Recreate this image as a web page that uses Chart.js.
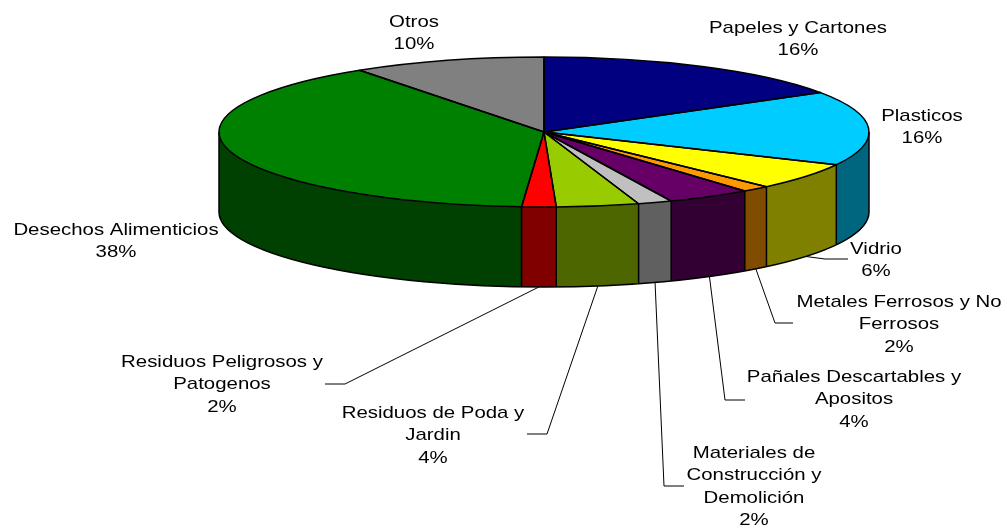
<!DOCTYPE html>
<html>
<head>
<meta charset="utf-8">
<style>
  html, body { margin: 0; padding: 0; background: #fff; }
  canvas { display: block; }
</style>
<script src="https://cdn.jsdelivr.net/npm/chart.js@4"></script>
</head>
<body>
<canvas id="pie" width="1007" height="529"></canvas>
<script>
const categories = [
  ['Papeles y Cartones'],
  ['Plasticos'],
  ['Vidrio'],
  ['Metales Ferrosos y No', 'Ferrosos'],
  ['Pañales Descartables y', 'Apositos'],
  ['Materiales de', 'Construcción y', 'Demolición'],
  ['Residuos de Poda y', 'Jardin'],
  ['Residuos Peligrosos y', 'Patogenos'],
  ['Desechos Alimenticios'],
  ['Otros']
];
const shownPct = ['16%', '16%', '6%', '2%', '4%', '2%', '4%', '2%', '38%', '10%'];
const values = [16.2, 16.0, 5.8, 1.4, 4.2, 1.7, 4.1, 1.7, 39.3, 9.6];
const topColors = ['#000080', '#00ccff', '#ffff00', '#ff9900', '#660066', '#c0c0c0', '#99cc00', '#ff0000', '#008000', '#808080'];
const wallColors = ['#000040', '#006680', '#808000', '#804c00', '#330033', '#606060', '#4d6600', '#800000', '#004000', '#404040'];

// where the pie sits on the page
const pieBox = { cx: 544, cy: 132, rx: 325, ry: 75, depth: 80 };
// label centre x and first baseline, one per slice
const labelPos = [[798, 33], [922, 121], [876, 254], [899, 307], [854, 382], [754, 458], [433, 418], [222, 367], [116, 235], [414, 27]];
// leader elbows, null when the slice has none
const leaders = [null, null, [[825, 259], [848, 259]], [[775, 323], [793, 323]], [[725, 400], [745, 400]], [[664, 486], [684, 486]], [[547, 434], [527, 434]], [[345, 384], [325, 384]], null, null];
// the reference text is wider than the plain font
const textStretch = 1.2;

function squash(ctx, arc) {
  const r = arc.outerRadius;
  ctx.translate(pieBox.cx, pieBox.cy);
  ctx.scale(pieBox.rx / r, pieBox.ry / r);
  ctx.translate(-arc.x, -arc.y);
}

const pie3d = {
  id: 'pie3d',
  beforeDatasetsDraw(chart) {
    const ctx = chart.ctx;
    const arcs = chart.getDatasetMeta(0).data;
    const { cx, cy, rx, ry, depth } = pieBox;
    // side wall, only the front half of the rim shows
    arcs.forEach((arc, i) => {
      const a = Math.max(arc.startAngle, 0);
      const b = Math.min(arc.endAngle, Math.PI);
      if (b <= a) return;
      ctx.beginPath();
      ctx.ellipse(cx, cy, rx, ry, 0, a, b);
      ctx.ellipse(cx, cy + depth, rx, ry, 0, b, a, true);
      ctx.closePath();
      ctx.fillStyle = wallColors[i];
      ctx.fill();
    });
    ctx.save();
    squash(ctx, arcs[0]);
  },
  afterDatasetsDraw(chart) {
    const ctx = chart.ctx;
    const arcs = chart.getDatasetMeta(0).data;
    ctx.restore();
    const { cx, cy, rx, ry, depth } = pieBox;

    ctx.strokeStyle = '#000';
    ctx.lineWidth = 1.5;
    ctx.lineJoin = 'round';
    ctx.beginPath();
    ctx.moveTo(cx - rx, cy);
    ctx.lineTo(cx - rx, cy + depth);
    ctx.ellipse(cx, cy + depth, rx, ry, 0, Math.PI, 0, true);
    ctx.lineTo(cx + rx, cy);
    arcs.forEach((arc) => {
      const s = Math.sin(arc.endAngle);
      if (s > 0) {
        const x = cx + rx * Math.cos(arc.endAngle);
        const y = cy + ry * s;
        ctx.moveTo(x, y);
        ctx.lineTo(x, y + depth);
      }
    });
    ctx.stroke();
    arcs.forEach((arc) => {
      ctx.beginPath();
      ctx.moveTo(cx, cy);
      ctx.ellipse(cx, cy, rx, ry, 0, arc.startAngle, arc.endAngle);
      ctx.closePath();
      ctx.stroke();
    });

    // leaders start on the bottom rim at the middle of their slice
    ctx.lineWidth = 1;
    arcs.forEach((arc, i) => {
      if (!leaders[i]) return;
      const mid = (arc.startAngle + arc.endAngle) / 2;
      ctx.beginPath();
      ctx.moveTo(cx + rx * Math.cos(mid), cy + depth + ry * Math.sin(mid));
      leaders[i].forEach((p) => ctx.lineTo(p[0], p[1]));
      ctx.stroke();
    });

    ctx.fillStyle = '#000';
    ctx.font = '17px "Liberation Sans", Arial, sans-serif';
    ctx.textAlign = 'center';
    ctx.textBaseline = 'alphabetic';
    categories.forEach((lines, i) => {
      const all = lines.concat(shownPct[i]);
      all.forEach((t, k) => {
        ctx.save();
        ctx.translate(labelPos[i][0], labelPos[i][1] + k * 22.4);
        ctx.scale(textStretch, 1);
        ctx.fillText(t, 0, 0);
        ctx.restore();
      });
    });
  }
};

new Chart(document.getElementById('pie'), {
  type: 'pie',
  data: {
    labels: categories.map((c) => c.join(' ')),
    datasets: [{ data: values, backgroundColor: topColors, borderWidth: 0, clip: false }]
  },
  options: {
    responsive: false,
    animation: false,
    events: [],
    layout: { padding: 0 },
    plugins: { legend: { display: false }, tooltip: { enabled: false } }
  },
  plugins: [pie3d]
});
</script>
</body>
</html>
